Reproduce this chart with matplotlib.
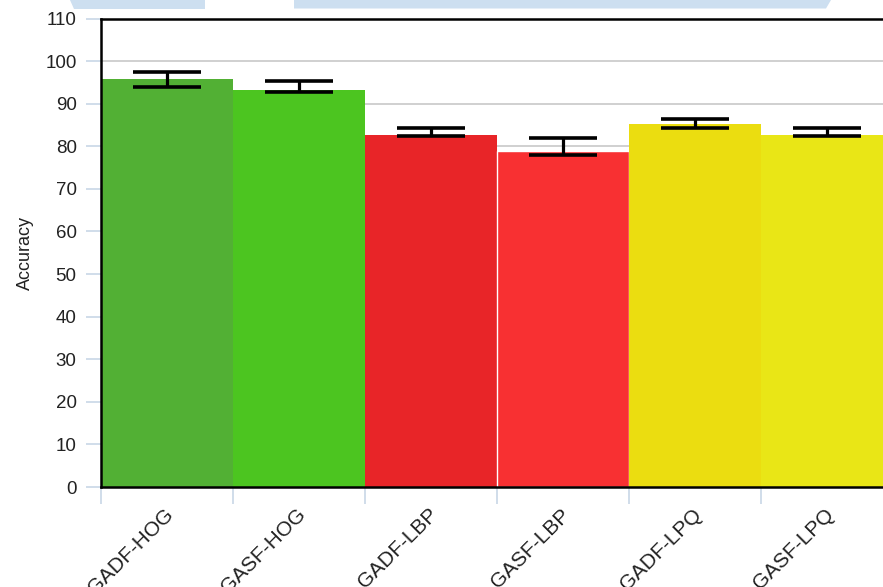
import matplotlib
matplotlib.use("Agg")
import matplotlib.pyplot as plt
from matplotlib.patches import Polygon
from matplotlib.transforms import ScaledTranslation
import numpy as np

categories = ["GADF-HOG", "GASF-HOG", "GADF-LBP", "GASF-LBP", "GADF-LPQ", "GASF-LPQ"]
accuracy = [95.7, 93.3, 82.7, 79.0, 85.2, 82.7]
err_low = [94.0, 92.8, 82.3, 77.9, 84.3, 82.3]
err_high = [97.5, 95.4, 84.4, 82.0, 86.5, 84.4]
colors = ["#52b034", "#4cc520", "#e82528", "#f83032", "#ebdd10", "#e9e616"]
edges = ["none", "none", "none", "white", "none", "none"]
yticks = list(range(0, 111, 10))

plt.rcParams['font.family'] = ['Liberation Sans', 'DejaVu Sans']

W, H = 883, 587
fig = plt.figure(figsize=(W / 100, H / 100), dpi=100)
ax = fig.add_axes([101 / W, (H - 487) / H, 792 / W, (487 - 18.5) / H])

x = np.arange(len(categories)) + 0.5
yerr = [np.array(accuracy) - np.array(err_low), np.array(err_high) - np.array(accuracy)]
ax.bar(x, accuracy, width=1.0, color=colors, edgecolor=edges, linewidth=1.0, zorder=2)
ax.errorbar(x, accuracy, yerr=yerr, fmt='none', ecolor='black', elinewidth=2.3,
            capsize=24.5, capthick=2.6, zorder=3)

ax.set_xlim(0, len(categories))
ax.set_ylim(0, 110)
ax.set_yticks(yticks)
ax.yaxis.grid(True, color='#c8c8c8', linewidth=1.2, zorder=0)
ax.set_axisbelow(True)

ax.set_xticks(x)
ax.set_xticklabels(categories, rotation=45, ha='right', rotation_mode='anchor', fontsize=15, color='#222222')
ax.tick_params(axis='x', which='major', length=0, pad=13)
for lab in ax.get_xticklabels():
    lab.set_transform(lab.get_transform() + ScaledTranslation(-0.03, 0, fig.dpi_scale_trans))
ax.set_xticks(np.arange(len(categories) + 1), minor=True)
ax.tick_params(axis='x', which='minor', length=12, width=1.1, color='#c3d3e4')
ax.tick_params(axis='y', length=11, width=1.1, color='#c3d3e4', labelsize=13.5, labelcolor='#222222', pad=6.5)

for s in ['left', 'bottom', 'top']:
    ax.spines[s].set_linewidth(1.8)
    ax.spines[s].set_color('black')
ax.spines['right'].set_visible(False)

ax.set_ylabel("Accuracy", fontsize=13, color='#222222')
ax.yaxis.set_label_coords(-(101 - 34) / 792, 0.5)

band = '#cddff0'
def px(pts):
    return [(a / W, 1 - b / H) for a, b in pts]
fig.patches.append(Polygon(px([(70, 0), (205, 0), (205, 8.5), (74, 8.5)]),
                           closed=True, transform=fig.transFigure, facecolor=band, edgecolor='none'))
fig.patches.append(Polygon(px([(294, 0), (831, 0), (826, 8.5), (294, 8.5)]),
                           closed=True, transform=fig.transFigure, facecolor=band, edgecolor='none'))

fig.savefig("out.png", dpi=100)
